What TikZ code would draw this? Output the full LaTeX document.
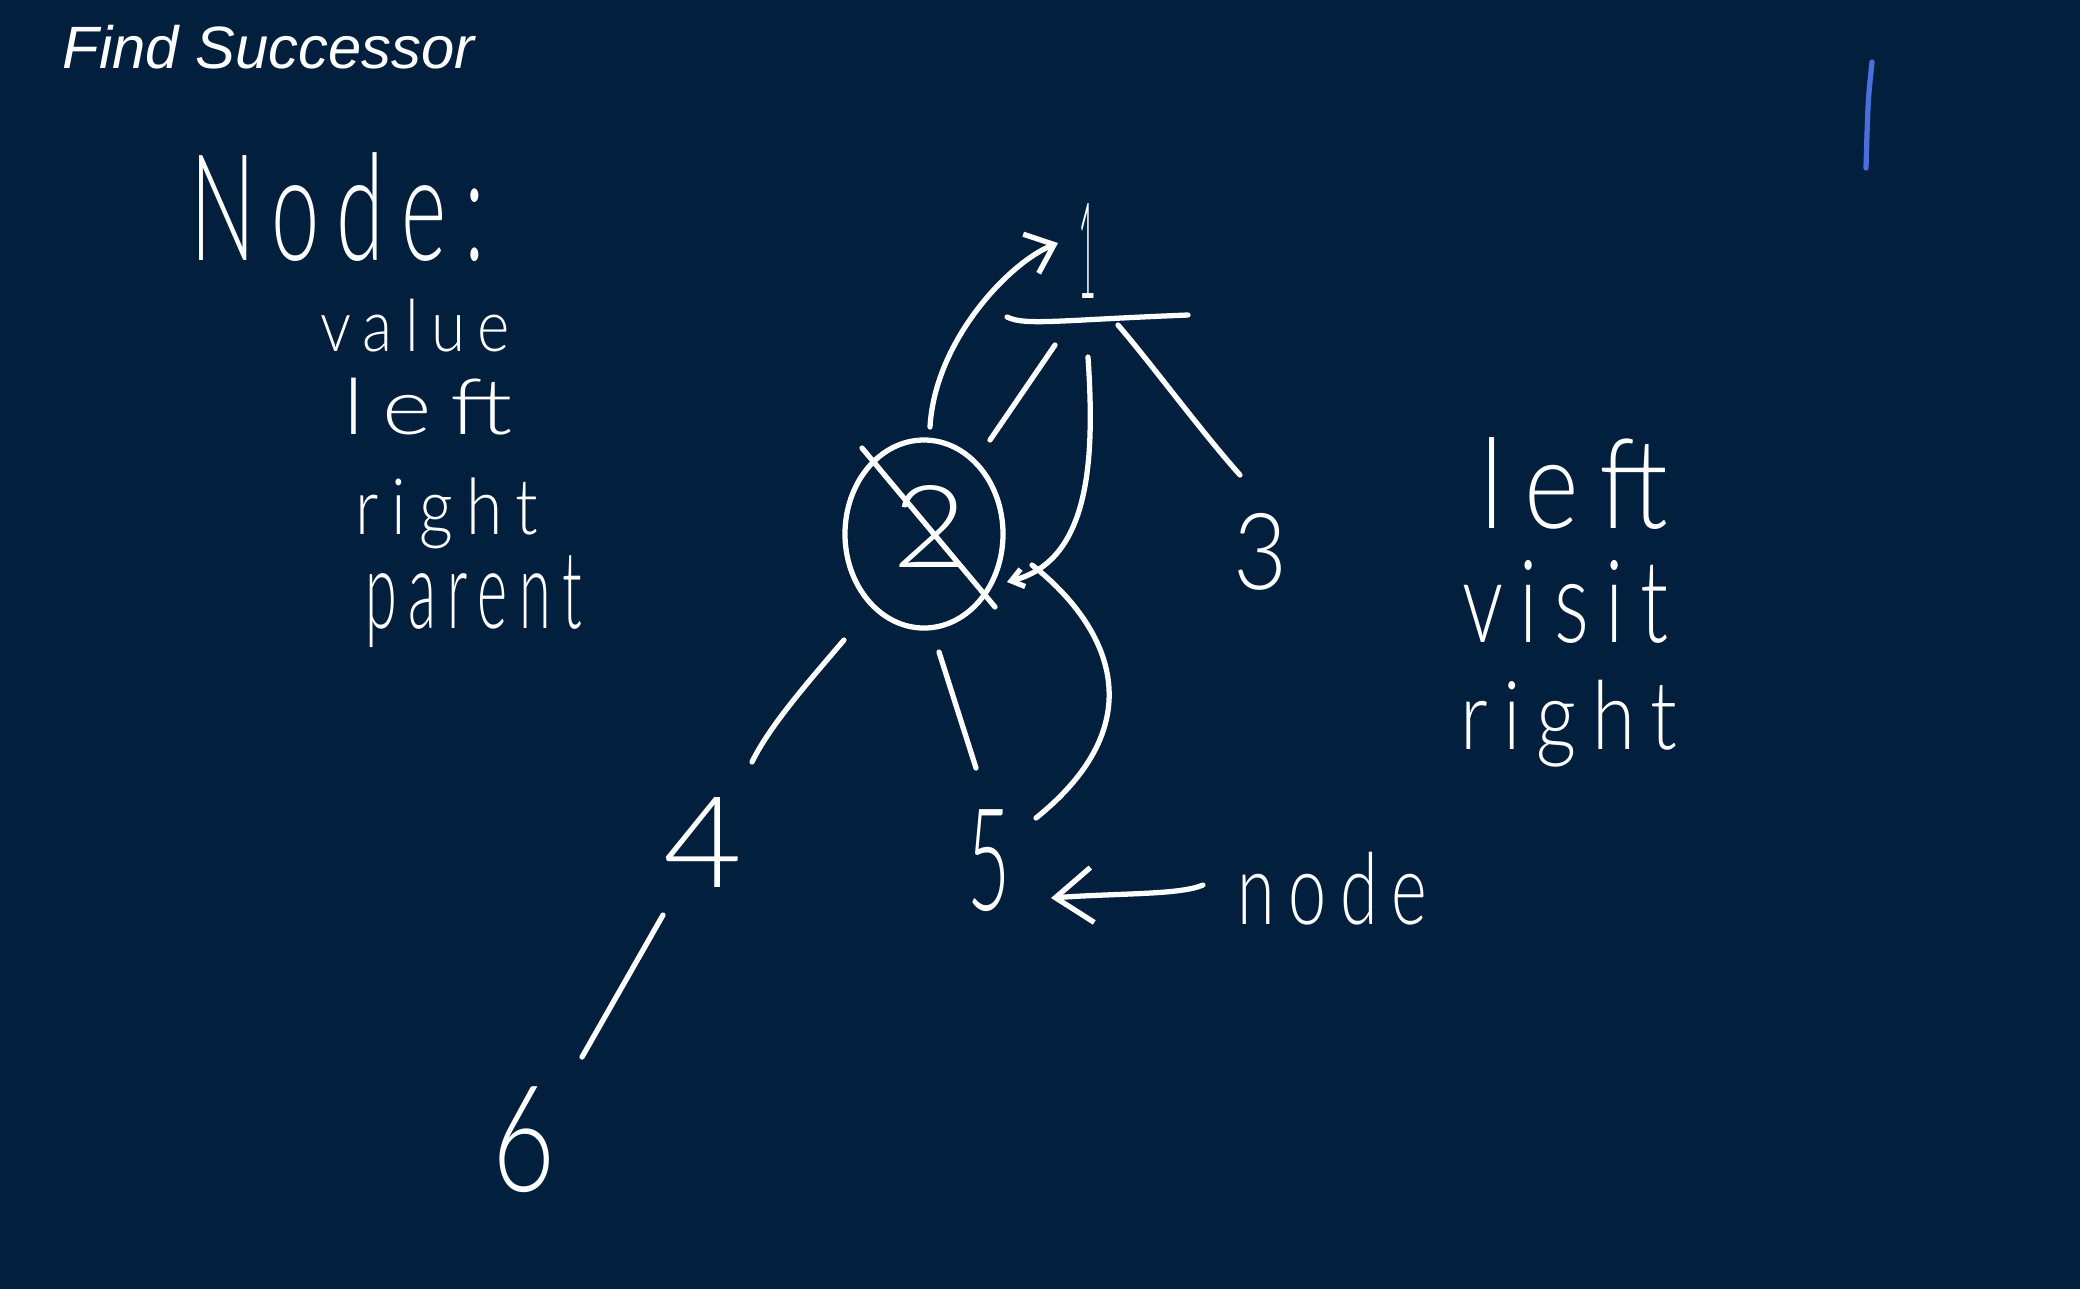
\documentclass[tikz,border=0pt]{standalone}
\usepackage{fontspec}
\usepackage{graphicx}
\usetikzlibrary{arrows.meta}
\setmainfont{Liberation Sans}
\newfontfamily\hand[LetterSpace=20]{Lato Light}
\definecolor{bg}{RGB}{2,31,62}
\definecolor{pen}{RGB}{74,110,220}
\newcommand{\hw}[3]{\resizebox*{#1cm}{#2cm}{\hand #3}}
\begin{document}
\begin{tikzpicture}[x=1cm,y=1cm,
  stroke/.style={white, line width=1.5pt, line cap=round, line join=round},
  hand/.style={inner sep=0pt, outer sep=0pt, anchor=north west, text=white},
  bigbarb/.style={-{Straight Barb[length=0.37cm,width=0.55cm]}},
  midbarb/.style={-{Straight Barb[length=0.25cm,width=0.42cm]}},
  smallbarb/.style={-{Straight Barb[length=0.12cm,width=0.18cm]}}]
\fill[bg] (0,0) rectangle (20.8,-12.89);
\useasboundingbox (0,0) rectangle (20.8,-12.89);

% title
\node[anchor=base west, inner sep=0pt, text=white,
      font=\fontsize{17}{20}\selectfont\itshape] (title) at (0.62,-0.68) {Find Successor};

% left list
\node[hand] (nodehdr) at (1.90,-1.53) {\hw{2.95}{1.09}{Node:}};
\node[hand] (value)   at (3.20,-2.99) {\hw{1.90}{0.53}{value}};
\node[hand] (leftA)   at (3.43,-3.78) {\hw{1.70}{0.57}{left}};
\node[hand] (rightA)  at (3.55,-4.78) {\hw{1.83}{0.71}{right}};
\node[hand] (parent)  at (3.65,-5.56) {\hw{2.17}{0.92}{parent}};

% right list
\node[hand] (leftB)   at (14.80,-4.37) {\hw{1.88}{0.92}{left}};
\node[hand] (visit)   at (14.62,-5.60) {\hw{2.06}{0.83}{visit}};
\node[hand] (rightB)  at (14.60,-6.80) {\hw{2.17}{0.87}{right}};

% tree nodes
\node[hand] (n1) at (10.78,-2.03) {\hw{0.18}{0.95}{1}};
\node[hand] (n2) at (8.92,-4.85)  {\hw{0.75}{0.82}{2}};
\node[hand] (n3) at (12.33,-5.13) {\hw{0.54}{0.77}{3}};
\node[hand] (n4) at (6.63,-7.97)  {\hw{0.79}{0.90}{4}};
\node[hand] (n5) at (9.67,-8.10)  {\hw{0.43}{1.02}{5}};
\node[hand] (n6) at (4.92,-10.87) {\hw{0.63}{1.06}{6}};
\node[hand] (lbl) at (12.37,-8.52) {\hw{1.90}{0.73}{node}};

% named ends of the strokes
\coordinate (u1a) at (10.07,-3.17);
\coordinate (u1b) at (11.88,-3.15);
\coordinate (e12a) at (10.55,-3.45);
\coordinate (e12b) at (9.90,-4.40);
\coordinate (e13a) at (11.18,-3.25);
\coordinate (e13b) at (12.40,-4.75);
\coordinate (e24a) at (8.44,-6.40);
\coordinate (e24b) at (7.52,-7.62);
\coordinate (e25a) at (9.39,-6.52);
\coordinate (e25b) at (9.76,-7.68);
\coordinate (e46a) at (6.63,-9.15);
\coordinate (e46b) at (5.82,-10.57);
\coordinate (ca) at (9.30,-4.27);
\coordinate (cb) at (10.58,-2.43);
\coordinate (da) at (10.88,-3.57);
\coordinate (db) at (10.07,-5.82);
\coordinate (fa) at (10.32,-5.65);
\coordinate (fb) at (10.36,-8.18);
\coordinate (ga) at (12.03,-8.85);
\coordinate (gb) at (10.51,-8.98);
\coordinate (xa) at (8.62,-4.48);
\coordinate (xb) at (9.95,-6.07);

% underline of 1
\draw[stroke] (u1a) .. controls (10.25,-3.26) and (10.6,-3.20) .. (u1b);
% tree edges
\draw[stroke] (e12a) -- (e12b);
\draw[stroke] (e13a) .. controls (11.5,-3.62) and (12.0,-4.30) .. (e13b);
\draw[stroke] (e24a) .. controls (8.10,-6.80) and (7.70,-7.25) .. (e24b);
\draw[stroke] (e25a) -- (e25b);
\draw[stroke] (e46a) -- (e46b);
% circle round 2 and its cross
\draw[stroke] (9.24,-5.34) ellipse [x radius=0.79, y radius=0.94];
\draw[stroke] (xa) -- (xb);
% curved arrows
\draw[stroke, midbarb] (ca) .. controls (9.35,-3.40) and (10.10,-2.62) .. (cb);
\draw[stroke, smallbarb] (da) .. controls (10.95,-4.60) and (10.90,-5.60) .. (db);
\draw[stroke] (fa) .. controls (10.90,-6.10) and (11.70,-7.10) .. (fb);
% node pointer
\draw[stroke, bigbarb] (ga) .. controls (11.80,-8.95) and (11.20,-8.93) .. (gb);
% blue pen mark
\coordinate (pa) at (18.72,-0.62);
\coordinate (pb) at (18.66,-1.68);
\draw[pen, line width=1.5pt, line cap=round] (pa) .. controls (18.68,-1.00) .. (pb);
\end{tikzpicture}
\end{document}
